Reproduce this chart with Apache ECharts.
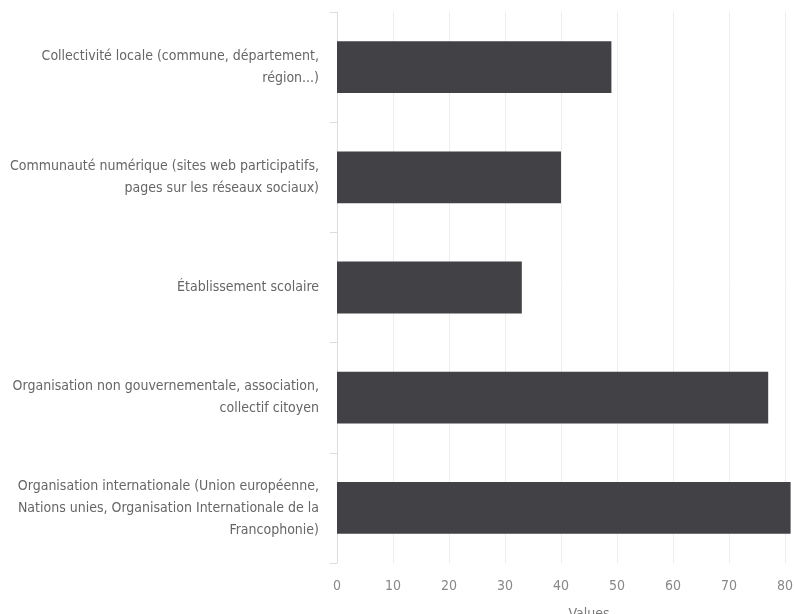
<!DOCTYPE html>
<html><head><meta charset="utf-8">
<script src="https://cdn.jsdelivr.net/npm/echarts@6/dist/echarts.min.js"></script>
<style>html,body{margin:0;padding:0;background:#fff}#c{width:794px;height:614px}</style>
</head><body><div id="c"></div>
<script>
const categories = [
  "Collectivité locale (commune, département,\nrégion...)",
  "Communauté numérique (sites web participatifs,\npages sur les réseaux sociaux)",
  "Établissement scolaire",
  "Organisation non gouvernementale, association,\ncollectif citoyen",
  "Organisation internationale (Union européenne,\nNations unies, Organisation Internationale de la\nFrancophonie)"
];
const values = [49, 40, 33, 77, 81];
const axisName = "Values";

const chart = echarts.init(document.getElementById('c'), null, {renderer: 'canvas'});
const font = "'Liberation Sans Narrow', 'DejaVu Sans Condensed', sans-serif";
chart.setOption({
  animation: false,
  grid: {left: 337, top: 12, right: -47, bottom: 51, containLabel: false, outerBoundsMode: 'none'},
  xAxis: {
    type: 'value', min: 0, max: 90, interval: 10,
    name: axisName, nameLocation: 'middle', nameGap: 44,
    nameTextStyle: {color: '#777', fontSize: 14, fontFamily: font},
    axisLine: {show: false}, axisTick: {show: false},
    axisLabel: {color: '#888', fontSize: 14, fontFamily: font, margin: 16},
    splitLine: {show: true, lineStyle: {color: '#eeeeee', width: 1}}
  },
  yAxis: {
    type: 'category', data: categories, inverse: true,
    axisLine: {show: true, lineStyle: {color: '#dddddd'}},
    axisTick: {show: true, length: 7, lineStyle: {color: '#dddddd'}},
    axisLabel: {color: '#666', fontSize: 14, fontFamily: font, lineHeight: 22, margin: 18, align: 'right'},
    splitLine: {show: false}
  },
  series: [{
    type: 'bar', data: values, barWidth: '47%',
    itemStyle: {color: '#414146'}
  }]
});
</script></body></html>
